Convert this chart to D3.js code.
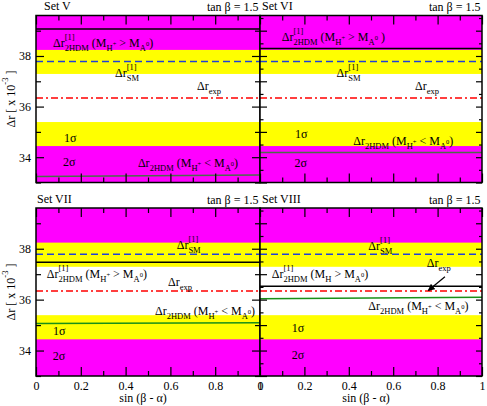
<!DOCTYPE html>
<html>
<head>
<meta charset="utf-8">
<style>
body { margin: 0; background: #fff; }
svg { font-family: "Liberation Serif", "DejaVu Serif", serif; }
text { white-space: pre; fill: #000; }
.tick line { stroke-width: 1.2; }
</style>
</head>
<body>
<script src="https://d3js.org/d3.v7.min.js"></script>
<script>

// chart values
var setNames = ["Set V", "Set VI", "Set VII", "Set VIII"];
var tanBetaText = "tan \u03b2 = 1.5";
var sinBA = [0, 1];
var drExp = 36.34, sigma1 = 0.95, sigma2 = 1.9;
var drSM = 37.78;
var drHeavy = [[39.07, 39.07], [38.30, 38.30], [37.47, 37.47], [36.53, 36.53]];
var drLight = [[33.24, 33.30], [34.19, 34.19], [35.06, 35.09], [36.03, 36.09]];
var yDomain = [33, 39.6];
var xMajor = [0, 0.2, 0.4, 0.6, 0.8, 1];
var xMinor = [0.1, 0.3, 0.5, 0.7, 0.9];
var yLabelled = [34, 36, 38];
var yOdd = [33, 35, 37, 39];
var yWhole = [33, 34, 35, 36, 37, 38, 39];
var yHalf = [33.5, 34.5, 35.5, 36.5, 37.5, 38.5, 39.5];

var svg = d3.select("body").append("svg")
    .attr("width", 487)
    .attr("height", 406);

svg.append("defs").append("marker")
    .attr("id", "arrow")
    .attr("viewBox", "0 0 10 10")
    .attr("refX", 9).attr("refY", 5)
    .attr("markerWidth", 7).attr("markerHeight", 7)
    .attr("markerUnits", "userSpaceOnUse")
    .attr("orient", "auto")
  .append("path")
    .attr("d", "M0,0L10,5L0,10z");

var panels = [
  {x0: 36,  x1: 260, y0: 15.5, y1: 182.5, left: true,  bottom: false, tx: 8},
  {x0: 260, x1: 482, y0: 15.5, y1: 182.5, left: false, bottom: false, tx: 2},
  {x0: 36,  x1: 260, y0: 208,  y1: 376,   left: true,  bottom: true,  tx: 1},
  {x0: 260, x1: 482, y0: 208,  y1: 376,   left: false, bottom: true,  tx: 2}
];

// label spots, in data units (sin, delta r)
var spots = [
  {heavy: [0.076, 38.35], sm: [0.353, 37.16], exp: [0.719, 36.64], s1: [0.125, 34.62], s2: [0.12, 33.64], light: [0.455, 33.60]},
  {heavy: [0.098, 38.61], sm: [0.345, 37.16], exp: [0.698, 36.66], s1: [0.158, 34.75], s2: [0.155, 33.60], light: [0.42, 34.50]},
  {heavy: [0.048, 36.84], sm: [0.628, 37.99], exp: [0.589, 36.55], s1: [0.076, 34.61], s2: [0.075, 33.63], light: [0.531, 35.40]},
  {heavy: [0.053, 36.84], sm: [0.488, 37.95], exp: [0.751, 37.29], s1: [0.143, 34.74], s2: [0.143, 33.67], light: [0.488, 35.59]}
];

var STY = {
  n:   {size: 12,  dy: 0},
  sup: {size: 8.5, dy: -7},
  sub: {size: 8.5, dy: 4},
  ss:  {size: 6.5, dy: -1}
};

function rich(g, x, y, toks) {
  var cx = x, held = 0;
  toks.forEach(function(k) {
    var st = STY[k.s || "n"];
    var el = g.append("text")
        .attr("x", cx)
        .attr("y", y + st.dy)
        .attr("font-size", st.size)
        .text(k.t);
    var w = el.node().getComputedTextLength();
    if (k.hold) { held = w; }
    else { cx += Math.max(w, held); held = 0; }
  });
  return cx - x;
}

function heavyToks(plus, paren) {
  var t = [{t: "\u0394r"}, {t: "[1]", s: "sup", hold: true}, {t: "2HDM", s: "sub"}, {t: " (M"}, {t: "H", s: "sub"}];
  if (plus) t.push({t: "+", s: "ss"});
  return t.concat([{t: " > M"}, {t: "A", s: "sub"}, {t: "0", s: "ss"}, {t: paren}]);
}
var lightToks = [{t: "\u0394r"}, {t: "2HDM", s: "sub"}, {t: " (M"}, {t: "H", s: "sub"}, {t: "+", s: "ss"},
                 {t: " < M"}, {t: "A", s: "sub"}, {t: "0", s: "ss"}, {t: ")"}];
var smToks = [{t: "\u0394r"}, {t: "[1]", s: "sup", hold: true}, {t: "SM", s: "sub"}];
var expToks = [{t: "\u0394r"}, {t: "exp", s: "sub"}];
var heavyLabel = [heavyToks(true, ")"), heavyToks(true, " )"), heavyToks(true, ")"), heavyToks(false, ")")];

panels.forEach(function(p, i) {
  var x = d3.scaleLinear().domain([0, 1]).range([p.x0, p.x1]);
  var y = d3.scaleLinear().domain(yDomain).range([p.y1, p.y0]);
  var g = svg.append("g");

  // bands
  g.append("rect").attr("x", p.x0).attr("y", p.y0)
      .attr("width", p.x1 - p.x0).attr("height", p.y1 - p.y0)
      .attr("fill", "#ff00ff");
  g.append("rect").attr("x", p.x0).attr("y", y(drExp + sigma2))
      .attr("width", p.x1 - p.x0).attr("height", y(drExp - sigma2) - y(drExp + sigma2))
      .attr("fill", "#ffff00");
  g.append("rect").attr("x", p.x0).attr("y", y(drExp + sigma1))
      .attr("width", p.x1 - p.x0).attr("height", y(drExp - sigma1) - y(drExp + sigma1))
      .attr("fill", "#fff");

  var line = d3.line()
      .x(function(d) { return x(d[0]); })
      .y(function(d) { return y(d[1]); });
  function series(vals) { return sinBA.map(function(s, j) { return [s, vals[j]]; }); }

  g.append("path").attr("d", line(series([drSM, drSM])))
      .attr("fill", "none").attr("stroke", "#2040d8").attr("stroke-width", 1.5)
      .attr("stroke-dasharray", "7,4");
  g.append("path").attr("d", line(series([drExp, drExp])))
      .attr("fill", "none").attr("stroke", "#ff0000").attr("stroke-width", 1.5)
      .attr("stroke-dasharray", "7,3,2,3");
  g.append("path").attr("d", line(series(drHeavy[i])))
      .attr("fill", "none").attr("stroke", "#000").attr("stroke-width", 1.5);
  g.append("path").attr("d", line(series(drLight[i])))
      .attr("fill", "none").attr("stroke", i < 2 ? "#4a6e4a" : "#189018").attr("stroke-width", 1.5);

  // ticks
  function ax(axis, tx, ty, vals, len, fmt, pad) {
    var a = g.append("g")
        .attr("transform", "translate(" + tx + "," + ty + ")")
        .call(axis.tickValues(vals).tickSize(-len).tickFormat(fmt || "").tickPadding(pad || 3));
    a.select(".domain").remove();
    a.attr("font-family", null).attr("font-size", 12);
    return a;
  }
  ax(d3.axisTop(x), 0, p.y0, xMajor, 9);
  ax(d3.axisTop(x), 0, p.y0, xMinor, 5);
  ax(d3.axisBottom(x), 0, p.y1, xMajor, 9, p.bottom ? function(d) { return d; } : "", 5);
  ax(d3.axisBottom(x), 0, p.y1, xMinor, 5);
  if (p.left) {
    ax(d3.axisLeft(y), p.x0, 0, yLabelled, 8, function(d) { return d; }, 5);
    ax(d3.axisLeft(y), p.x0, 0, yOdd, 5);
    ax(d3.axisRight(y), p.x1, 0, yLabelled, 8);
    ax(d3.axisRight(y), p.x1, 0, yOdd, 5);
  } else {
    ax(d3.axisLeft(y), p.x0, 0, yWhole, 7);
    ax(d3.axisLeft(y), p.x0, 0, yHalf, 3.5);
    ax(d3.axisRight(y), p.x1, 0, yWhole, 6);
    ax(d3.axisRight(y), p.x1, 0, yHalf, 3);
  }

  g.append("rect").attr("x", p.x0).attr("y", p.y0)
      .attr("width", p.x1 - p.x0).attr("height", p.y1 - p.y0)
      .attr("fill", "none").attr("stroke", "#000").attr("stroke-width", 1.5);

  // titles
  g.append("text").attr("x", p.x0 + p.tx).attr("y", p.y0 - 5.5)
      .attr("font-size", 12).text(setNames[i]);
  g.append("text").attr("x", p.x1 - 1.5).attr("y", p.y0 - 4.5)
      .attr("font-size", 12).attr("text-anchor", "end").text(tanBetaText);

  // annotations
  var s = spots[i];
  function at(pt, toks) { rich(g, x(pt[0]), y(pt[1]), toks); }
  at(s.heavy, heavyLabel[i]);
  at(s.sm, smToks);
  at(s.exp, expToks);
  at(s.light, lightToks);
  at(s.s1, [{t: "1\u03c3"}]);
  at(s.s2, [{t: "2\u03c3"}]);

  if (i === 3) {
    g.append("line")
        .attr("x1", x(0.833)).attr("y1", y(36.90))
        .attr("x2", x(0.758)).attr("y2", y(36.36))
        .attr("stroke", "#000").attr("stroke-width", 1.2)
        .attr("marker-end", "url(#arrow)");
  }

  if (p.left) {
    var yl = svg.append("g")
        .attr("transform", "translate(15," + ((p.y0 + p.y1) / 2 + 0) + ") rotate(-90)");
    var w = rich(yl, 0, 0, [{t: "\u0394r [ x 10"}, {t: "-3", s: "sup"}, {t: " ]"}]);
    yl.selectAll("text").attr("x", function() { return +this.getAttribute("x") - w / 2; });
  }
  if (p.bottom) {
    svg.append("text")
        .attr("x", (p.x0 + p.x1) / 2 - 5)
        .attr("y", 402)
        .attr("font-size", 12)
        .attr("text-anchor", "middle")
        .text("sin (\u03b2 - \u03b1)");
  }
});

</script>
</body>
</html>
